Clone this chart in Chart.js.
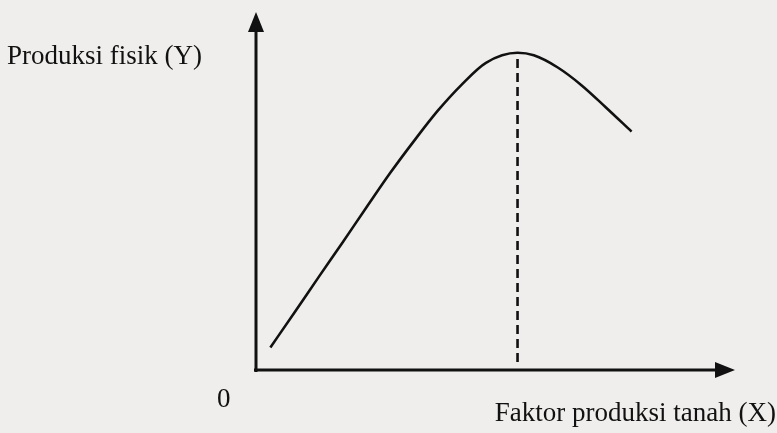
<!DOCTYPE html>
<html>
<head>
<meta charset="utf-8">
<script src="https://cdn.jsdelivr.net/npm/chart.js@4/dist/chart.umd.min.js"></script>
<style>
  html, body { margin: 0; padding: 0; background: #efeeec; }
  #wrap { width: 777px; height: 433px; position: relative; }
</style>
</head>
<body>
<div id="wrap"><canvas id="chart"></canvas></div>
<script>
// Production curve (arbitrary units 0-100)
const curveX = [3, 8, 13, 18, 23, 28, 33, 38, 43, 48, 54.6, 58, 63, 68, 73, 78.4];
const curveY = [6.3, 16.0, 25.8, 35.5, 45.3, 55.0, 64.0, 72.5, 79.8, 85.8, 88.6, 87.9, 84.5, 79.5, 73.4, 66.6];

// Vertical dashed line at the peak
const peakX = [54.6, 54.6];
const peakY = [2.2, 88.6];

const yTitle = 'Produksi fisik (Y)';
const xTitle = 'Faktor produksi tanah (X)';
const originLabel = '0';

const toPoints = (xs, ys) => xs.map((x, i) => ({ x: x, y: ys[i] }));

// Draw both axes as arrows plus the free text labels
const axesPlugin = {
    id: 'arrowAxes',
    afterDraw(chart) {
        const ctx = chart.ctx;
        const xs = chart.scales.x;
        const ys = chart.scales.y;
        const x0 = xs.getPixelForValue(0);
        const y0 = ys.getPixelForValue(0);
        const xEnd = xs.getPixelForValue(100);
        const yEnd = ys.getPixelForValue(100);

        ctx.save();
        ctx.strokeStyle = '#111';
        ctx.fillStyle = '#111';
        ctx.lineWidth = 3;

        // y axis
        ctx.beginPath();
        ctx.moveTo(x0, y0 + 2);
        ctx.lineTo(x0, yEnd + 16);
        ctx.stroke();
        ctx.beginPath();
        ctx.moveTo(x0, yEnd);
        ctx.lineTo(x0 - 8, yEnd + 20);
        ctx.lineTo(x0 + 8, yEnd + 20);
        ctx.closePath();
        ctx.fill();

        // x axis
        ctx.beginPath();
        ctx.moveTo(x0 - 2, y0);
        ctx.lineTo(xEnd - 16, y0);
        ctx.stroke();
        ctx.beginPath();
        ctx.moveTo(xEnd, y0);
        ctx.lineTo(xEnd - 20, y0 - 8);
        ctx.lineTo(xEnd - 20, y0 + 8);
        ctx.closePath();
        ctx.fill();

        // labels
        ctx.font = '27px "Liberation Serif", "Times New Roman", serif';
        ctx.textBaseline = 'alphabetic';
        ctx.textAlign = 'left';
        ctx.fillText(yTitle, 7, 64);
        ctx.fillText(originLabel, 217, 407);
        ctx.textAlign = 'right';
        ctx.fillText(xTitle, 776, 421);
        ctx.restore();
    }
};

const ctx = document.getElementById('chart');
new Chart(ctx.getContext('2d'), {
    type: 'scatter',
    data: {
        datasets: [{
            data: toPoints(curveX, curveY),
            showLine: true,
            borderColor: '#111',
            borderWidth: 2.6,
            pointRadius: 0,
            cubicInterpolationMode: 'monotone',
            fill: false
        }, {
            data: toPoints(peakX, peakY),
            showLine: true,
            borderColor: '#111',
            borderWidth: 2.6,
            borderDash: [9, 5],
            pointRadius: 0,
            fill: false
        }]
    },
    options: {
        responsive: true,
        maintainAspectRatio: false,
        animation: false,
        layout: {
            padding: { left: 256, right: 42, top: 12, bottom: 63 }
        },
        plugins: {
            legend: { display: false },
            tooltip: { enabled: false }
        },
        scales: {
            x: { type: 'linear', min: 0, max: 100, display: false },
            y: { type: 'linear', min: 0, max: 100, display: false }
        }
    },
    plugins: [axesPlugin]
});
</script>
</body>
</html>
